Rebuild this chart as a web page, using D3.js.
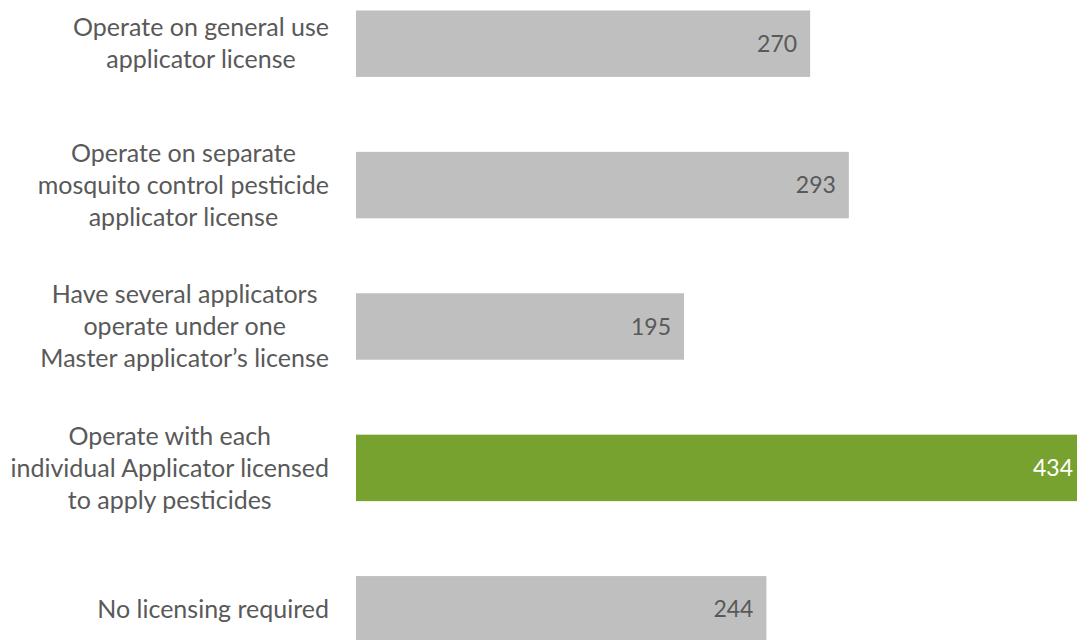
<!DOCTYPE html>
<html>
<head>
<meta charset="utf-8">
<script src="https://cdn.jsdelivr.net/npm/d3@7"></script>
<style>
  body { margin: 0; background: #fff; }
  svg { display: block; }
  text { font-family: Lato, "Open Sans", sans-serif; }
</style>
</head>
<body>
<script>
'use strict';

// categories, top to bottom (line breaks as in the chart)
const categories = [
  "Operate on general use\napplicator license",
  "Operate on separate\nmosquito control pesticide\napplicator license",
  "Have several applicators\noperate under one\nMaster applicator\u2019s license",
  "Operate with each\nindividual Applicator licensed\nto apply pesticides",
  "No licensing required"
];
const values = [270, 293, 195, 434, 244];
const highlight = [false, false, false, true, false];

const width = 1077, height = 640;
const labelRight = 329;   // right edge of the category text block
const lineH = 32;
const catSize = 25;
const valSize = 23;

let svg = d3.select('body')
  .append('svg')
  .attr('width', width)
  .attr('height', height);

// y bands
let yScale = d3.scaleBand()
  .domain(categories)
  .range([-27, 680])
  .paddingInner(0.53)
  .paddingOuter(0.265);

// x scale - the longest bar runs off the right edge like the original
let xScale = d3.scaleLinear()
  .domain([0, d3.max(values)])
  .range([356, 1086]);

let rows = categories.map((c, i) => ({ cat: c, value: values[i], hi: highlight[i] }));

// bars
svg.selectAll('.bar')
  .data(rows)
  .enter()
  .append('rect')
    .attr('class', 'bar')
    .attr('x', xScale(0))
    .attr('y', (d) => yScale(d.cat))
    .attr('width', (d) => xScale(d.value) - xScale(0))
    .attr('height', yScale.bandwidth())
    .attr('fill', (d) => d.hi ? '#78A22F' : '#BFBFBF');

// value labels inside bar end
svg.selectAll('.val')
  .data(rows)
  .enter()
  .append('text')
    .attr('class', 'val')
    .attr('x', (d) => xScale(d.value) - 13)
    .attr('y', (d) => yScale(d.cat) + yScale.bandwidth() / 2)
    .attr('dy', '0.35em')
    .attr('text-anchor', 'end')
    .style('font-size', valSize + 'px')
    .attr('fill', (d) => d.hi ? '#ffffff' : '#595959')
    .text((d) => d.value);

// category labels, each block centred and right-aligned to labelRight
rows.forEach((d) => {
  let lines = d.cat.split('\n');
  let g = svg.append('g');
  let cy = yScale(d.cat) + yScale.bandwidth() / 2;
  let t = g.append('text')
    .style('font-size', catSize + 'px')
    .attr('fill', '#595959')
    .attr('text-anchor', 'middle');
  lines.forEach((ln, j) => {
    t.append('tspan')
      .attr('x', 0)
      .attr('y', cy + (j - (lines.length - 1) / 2) * lineH)
      .attr('dy', '0.35em')
      .text(ln);
  });
  // widest line decides the block centre
  let maxW = d3.max(t.selectAll('tspan').nodes(), (n) => n.getComputedTextLength());
  t.attr('transform', 'translate(' + (labelRight - maxW / 2) + ',0)');
});
</script>
</body>
</html>
